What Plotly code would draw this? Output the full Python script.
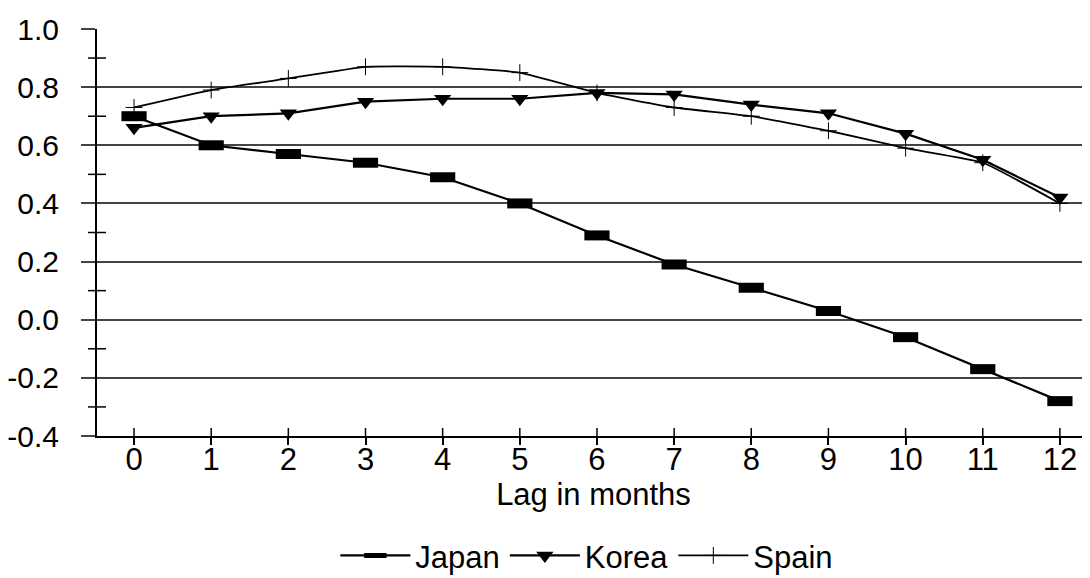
import plotly.graph_objects as go

lags = list(range(13))
tick_labels = [str(v) for v in lags]
japan = [0.70, 0.60, 0.57, 0.54, 0.49, 0.40, 0.29, 0.19, 0.11, 0.03, -0.06, -0.17, -0.28]
korea = [0.66, 0.70, 0.71, 0.75, 0.76, 0.76, 0.78, 0.775, 0.74, 0.71, 0.64, 0.55, 0.42]
spain = [0.73, 0.79, 0.83, 0.87, 0.87, 0.85, 0.78, 0.73, 0.70, 0.65, 0.59, 0.54, 0.40]
y_ticks = [-0.4, -0.2, 0.0, 0.2, 0.4, 0.6, 0.8, 1.0]
y_minor = [-0.3, -0.1, 0.1, 0.3, 0.5, 0.7, 0.9]

# page body has an 8px margin, so the figure is 8px smaller
W, H = 1082, 570
L, R, T, B = 89, 0, 21, 142
pw, ph = W - L - R, H - T - B

fig = go.Figure()
fig.add_trace(go.Scatter(
    x=lags, y=japan, name="Japan", mode="lines+markers",
    line=dict(color="black", width=2.2),
    marker=dict(symbol="line-ew", size=18, color="black",
                line=dict(color="black", width=10)),
))
fig.add_trace(go.Scatter(
    x=lags, y=korea, name="Korea", mode="lines+markers",
    line=dict(color="black", width=2.2),
    marker=dict(symbol="triangle-down", size=15, color="black",
                line=dict(color="black", width=0)),
))
fig.add_trace(go.Scatter(
    x=lags, y=spain, name="Spain", mode="lines+markers",
    line=dict(color="black", width=1.8, shape="spline", smoothing=0.4),
    marker=dict(symbol="cross-thin", size=12, color="black",
                line=dict(color="black", width=1)),
))

# minor y ticks crossing the axis
for v in y_minor:
    fig.add_shape(type="line", xref="paper", yref="y",
                  x0=-9 / pw, x1=9 / pw, y0=v, y1=v,
                  line=dict(color="black", width=1.5))
# x ticks crossing the axis (inside part)
for v in lags:
    fig.add_shape(type="line", xref="x", yref="paper",
                  x0=v, x1=v, y0=0, y1=8 / ph,
                  line=dict(color="black", width=1.5))

font = "Liberation Sans, Arial, sans-serif"
fs = 31
fig.update_layout(
    width=W, height=H,
    margin=dict(l=L, r=R, t=T, b=B, autoexpand=False),
    paper_bgcolor="white", plot_bgcolor="white",
    font=dict(family=font, size=fs, color="black"),
    showlegend=True,
    legend=dict(orientation="h", xref="container", yref="container",
                x=0.535, y=0.039, xanchor="center", yanchor="middle",
                font=dict(size=fs), itemwidth=70),
    xaxis=dict(
        range=[-0.48, 12.39], tickvals=lags, ticktext=tick_labels,
        showgrid=False, zeroline=False,
        showline=True, linecolor="black", linewidth=2,
        ticks="outside", ticklen=7, tickwidth=1.5, tickcolor="black",
        tickfont=dict(size=fs),
        ticklabelstandoff=-12,
        title=dict(text="Lag in months", font=dict(size=fs), standoff=2),
    ),
    yaxis=dict(
        range=[-0.4, 1.0], tickvals=y_ticks,
        ticktext=[f"{v:.1f}" for v in y_ticks],
        showgrid=True, gridcolor="#444", gridwidth=1.5,
        zeroline=False,
        showline=True, linecolor="black", linewidth=2,
        ticks="outside", ticklen=14, tickwidth=1.5, tickcolor="#444",
        tickfont=dict(size=30),
        ticklabelstandoff=16,
    ),
)

fig.write_html("out.html")
